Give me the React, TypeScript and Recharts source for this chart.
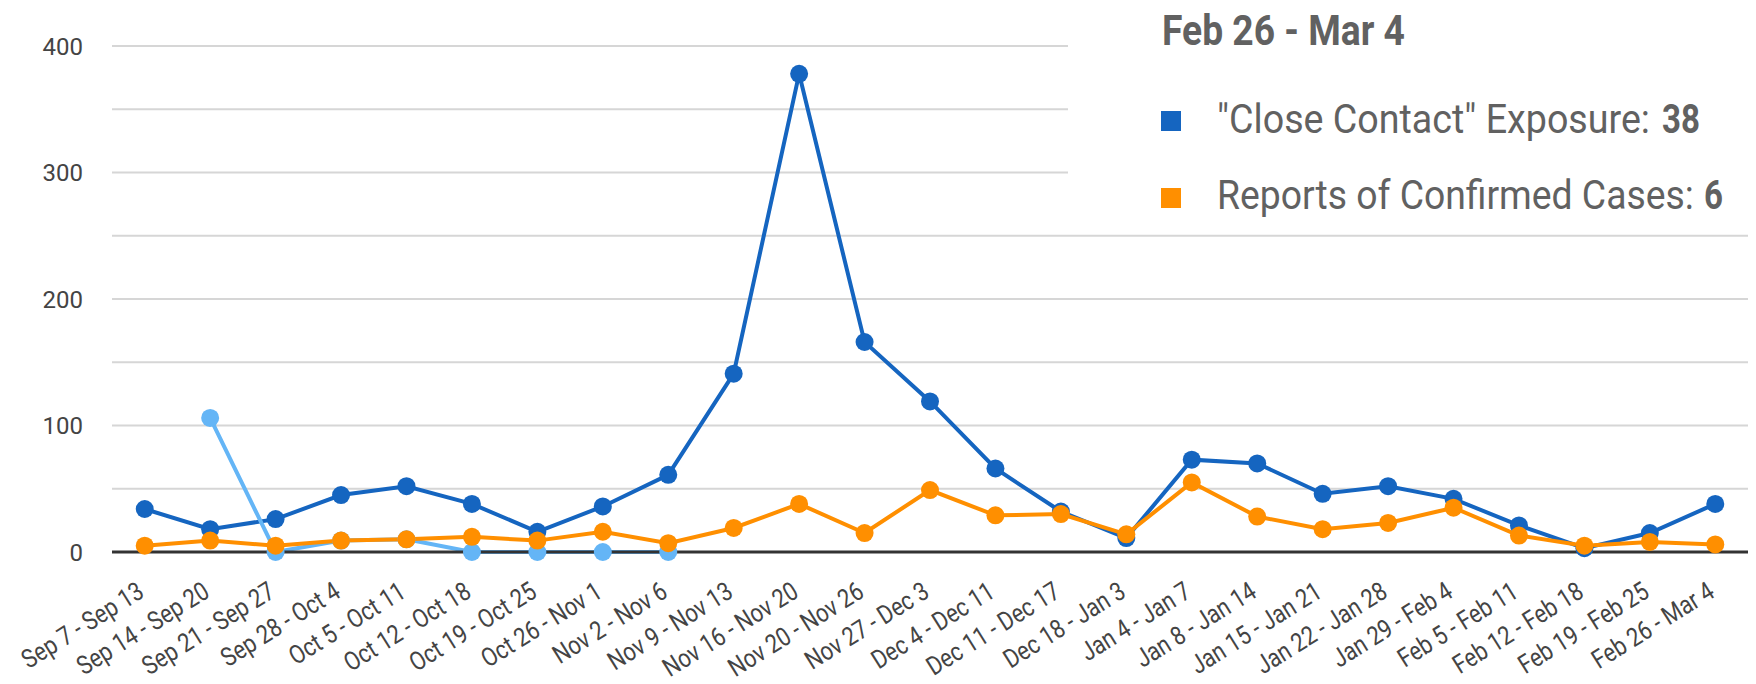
import React, { useLayoutEffect, useRef, useState } from "react";
import { LineChart, Line, XAxis, YAxis, CartesianGrid, Legend } from "recharts";

const WEEKS = [
  "Sep 7 - Sep 13", "Sep 14 - Sep 20", "Sep 21 - Sep 27", "Sep 28 - Oct 4",
  "Oct 5 - Oct 11", "Oct 12 - Oct 18", "Oct 19 - Oct 25", "Oct 26 - Nov 1",
  "Nov 2 - Nov 6", "Nov 9 - Nov 13", "Nov 16 - Nov 20", "Nov 20 - Nov 26",
  "Nov 27 - Dec 3", "Dec 4 - Dec 11", "Dec 11 - Dec 17", "Dec 18 - Jan 3",
  "Jan 4 - Jan 7", "Jan 8 - Jan 14", "Jan 15 - Jan 21", "Jan 22 - Jan 28",
  "Jan 29 - Feb 4", "Feb 5 - Feb 11", "Feb 12 - Feb 18", "Feb 19 - Feb 25",
  "Feb 26 - Mar 4",
];

const CLOSE_CONTACT = [34, 18, 26, 45, 52, 38, 16, 36, 61, 141, 378, 166, 119, 66, 32, 11, 73, 70, 46, 52, 42, 21, 3, 15, 38];
const CONFIRMED = [5, 9, 5, 9, 10, 12, 9, 16, 7, 19, 38, 15, 49, 29, 30, 14, 55, 28, 18, 23, 35, 13, 5, 8, 6];
// early light-blue series, only reported for the first few weeks
const EARLY_COUNT = [null, 106, 0, 9, 10, 0, 0, 0, 0, null, null, null, null, null, null, null, null, null, null, null, null, null, null, null, null];

const Y_TICKS = [0, 50, 100, 150, 200, 250, 300, 350, 400];
const SERIES_NAMES = ['"Close Contact" Exposure', "Reports of Confirmed Cases"];
const LEGEND_TITLE = "Feb 26 - Mar 4";

const BLUE = "#1565c0";
const ORANGE = "#ff8f00";
const LIGHT_BLUE = "#64b5f6";
const TEXT = "#444";
const LEGEND_TEXT = "#616161";

const data = WEEKS.map((week, i) => ({
  week,
  closeContact: CLOSE_CONTACT[i],
  confirmed: CONFIRMED[i],
  early: EARLY_COUNT[i],
}));

function WeekTick({ x, y, payload }: any) {
  const ax = x + 1;
  const ay = y + 36;
  return (
    <text
      x={0}
      y={0}
      transform={`translate(${ax} ${ay}) rotate(-32) scale(0.84 1)`}
      textAnchor="end"
      fontSize={26}
      fill={TEXT}
      fontFamily="Roboto, sans-serif"
    >
      {payload.value}
    </text>
  );
}

// squeezes a text horizontally so it fills the given width (narrow, condensed look)
function FitText({ x, y, width, children, ...rest }: any) {
  const ref = useRef<SVGTextElement>(null);
  const [sx, setSx] = useState(1);
  useLayoutEffect(() => {
    if (ref.current) {
      const w = ref.current.getComputedTextLength();
      if (w > 0) setSx(width / w);
    }
  }, [width, children]);
  return (
    <text ref={ref} x={0} y={0} transform={`translate(${x} ${y}) scale(${sx} 1)`} {...rest}>
      {children}
    </text>
  );
}

function WeekLegend() {
  const last = WEEKS.length - 1;
  return (
    <div style={{ width: 688, height: 222, background: "#fff" }}>
      <svg width={688} height={222} style={{ display: "block" }} fontFamily="Roboto, sans-serif">
        <FitText x={94} y={45} width={243} fontSize={42} fontWeight={700} fill={LEGEND_TEXT}>
          {LEGEND_TITLE}
        </FitText>
        <rect x={93} y={111} width={20} height={20} fill={BLUE} />
        <FitText x={149} y={133} width={433} fontSize={40} fill={LEGEND_TEXT}>
          {`${SERIES_NAMES[0]}:`}
        </FitText>
        <FitText x={594} y={133} width={38} fontSize={40} fontWeight={700} fill={LEGEND_TEXT}>
          {String(CLOSE_CONTACT[last])}
        </FitText>
        <rect x={93} y={188} width={20} height={20} fill={ORANGE} />
        <FitText x={149} y={209} width={477} fontSize={40} fill={LEGEND_TEXT}>
          {`${SERIES_NAMES[1]}:`}
        </FitText>
        <FitText x={636} y={209} width={19} fontSize={40} fontWeight={700} fill={LEGEND_TEXT}>
          {String(CONFIRMED[last])}
        </FitText>
      </svg>
    </div>
  );
}

export default function App() {
  return (
    <div style={{ position: "absolute", left: 0, top: 0, width: 1756, height: 684, background: "#fff", fontFamily: "Roboto, sans-serif" }}>
      <LineChart width={1756} height={684} data={data} margin={{ top: 46, right: 8, left: 52, bottom: 12 }}>
        <CartesianGrid vertical={false} stroke="#d6d6d6" strokeWidth={2} />
        <XAxis
          dataKey="week"
          interval={0}
          height={120}
          padding={{ left: 32.72, right: 32.72 }}
          tickLine={false}
          axisLine={{ stroke: "#333", strokeWidth: 3 }}
          tick={<WeekTick />}
        />
        <YAxis
          width={60}
          domain={[0, 400]}
          ticks={Y_TICKS}
          interval={0}
          axisLine={false}
          tickLine={false}
          tickSize={0}
          tickMargin={29}
          tickFormatter={(v: number) => (v % 100 === 0 ? String(v) : "")}
          tick={{ fontSize: 24, fill: TEXT }}
        />
        <Legend
          layout="vertical"
          align="center"
          verticalAlign="middle"
          content={<WeekLegend />}
          wrapperStyle={{ left: 1068, top: 0, width: 688, height: 222 }}
        />
        <Line
          dataKey="closeContact"
          name={SERIES_NAMES[0]}
          stroke={BLUE}
          strokeWidth={4}
          dot={{ r: 9, fill: BLUE, stroke: BLUE, strokeWidth: 0 }}
          activeDot={false}
          isAnimationActive={false}
        />
        <Line
          dataKey="early"
          stroke={LIGHT_BLUE}
          strokeWidth={4}
          dot={{ r: 9, fill: LIGHT_BLUE, stroke: LIGHT_BLUE, strokeWidth: 0 }}
          activeDot={false}
          legendType="none"
          isAnimationActive={false}
        />
        <Line
          dataKey="confirmed"
          name={SERIES_NAMES[1]}
          stroke={ORANGE}
          strokeWidth={4}
          dot={{ r: 9, fill: ORANGE, stroke: ORANGE, strokeWidth: 0 }}
          activeDot={false}
          isAnimationActive={false}
        />
      </LineChart>
    </div>
  );
}
